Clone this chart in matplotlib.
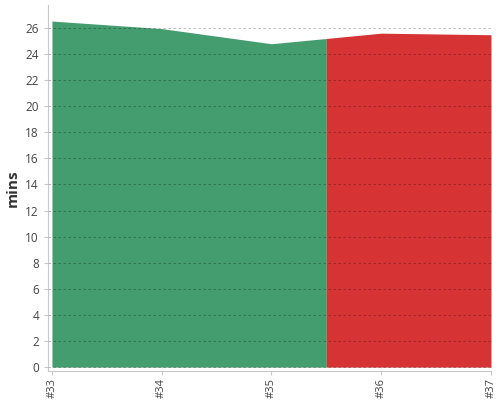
import matplotlib.pyplot as plt
import numpy as np

builds = ['#33', '#34', '#35', '#36', '#37']
positions = [33, 34, 35, 36, 37]
mins = [26.53, 25.95, 24.79, 25.6, 25.48]
split = 35.5  # status changes from passed (green) to failed (red)

plt.rcParams['font.family'] = ['Open Sans', 'DejaVu Sans']

fig = plt.figure(figsize=(5, 4), dpi=100)
ax = fig.add_axes([0.096, 0.0725, 0.886, 0.915])

x = np.array(positions, dtype=float)
y = np.array(mins)
y_split = np.interp(split, x, y)

xg = np.append(x[x < split], split)
yg = np.append(y[x < split], y_split)
xr = np.insert(x[x > split], 0, split)
yr = np.insert(y[x > split], 0, y_split)

ax.fill_between(xg, 0, yg, color='#449d6e', linewidth=0, zorder=1)
ax.fill_between(xr, 0, yr, color='#d63334', linewidth=0, zorder=1)

ax.set_xlim(33 - 0.036, 37)
ax.set_ylim(-0.3, 27.76)
ax.set_yticks(range(0, 27, 2))
ax.set_xticks(positions)
ax.set_xticklabels(builds, rotation=90)

ax.grid(axis='y', linestyle=(0, (3, 3)), color='black', alpha=0.3, linewidth=0.6, zorder=2)
ax.set_axisbelow(False)

for s in ['top', 'right']:
    ax.spines[s].set_visible(False)
for s in ['left', 'bottom']:
    ax.spines[s].set_color('#c8c8c8')
ax.tick_params(colors='#c8c8c8', labelcolor='#444444', labelsize=8.5, length=3)
ax.tick_params(axis='x', pad=2, labelsize=8)
ax.set_ylabel('mins', fontsize=11, fontweight='bold', color='#333333', labelpad=4)

fig.savefig('out.png')
